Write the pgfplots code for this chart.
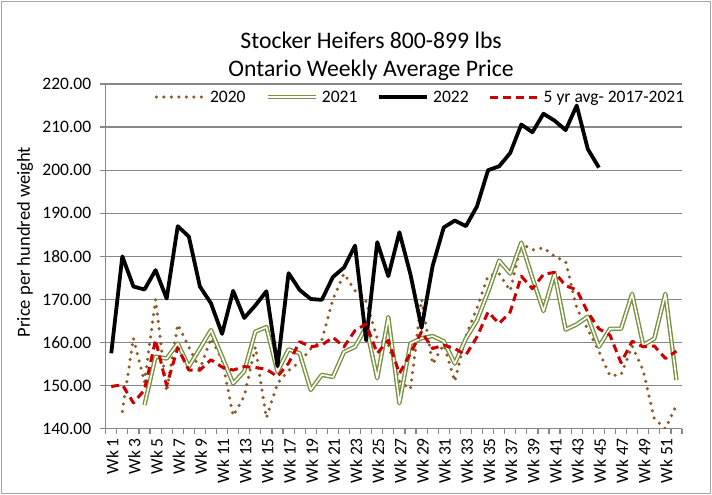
\documentclass[border=0pt]{standalone}
\usepackage{pgfplots}
\pgfplotsset{compat=1.18}
\usepackage{fontspec}
\setmainfont{Carlito}
\definecolor{gridgray}{RGB}{135,135,135}
\definecolor{bordergray}{RGB}{165,165,165}
\definecolor{brownA}{RGB}{140,92,40}
\definecolor{oliveA}{RGB}{118,146,60}
\definecolor{redA}{RGB}{204,0,0}
\begin{document}
\begin{tikzpicture}[x=1bp,y=1bp]
\path[use as bounding box] (0,0) rectangle (712,495);
\draw[bordergray, line width=1.2bp] (1.5,1.5) rectangle (710.5,493.5);
\node[font=\fontsize{23.7bp}{28bp}\selectfont] at (371,455) {Stocker Heifers 800-899 lbs};
\node[font=\fontsize{23.7bp}{28bp}\selectfont] at (371,425) {Ontario Weekly Average Price};
\node[rotate=90, font=\fontsize{18.5bp}{22bp}\selectfont] at (25,253) {Price per hundred weight};
\begin{axis}[
  at={(105.7bp,66.3bp)}, anchor=south west, scale only axis,
  width=576.3bp, height=344.7bp,
  xmin=0.5, xmax=52.5, ymin=140, ymax=220,
  ytick={140,150,...,220},
  xtick={1,3,...,51},
  minor xtick={0.5,1.5,...,52.5},
  xticklabel={Wk \pgfmathparse{int(\tick)}\pgfmathresult},
  axis x line*=bottom, axis y line*=left,
  axis line style={gridgray, line width=1.3bp, -},
  ymajorgrids, major grid style={gridgray, line width=1.3bp},
  tick align=outside,
  major tick length=6bp, minor tick length=5bp,
  major x tick style={draw=none},
  minor x tick style={gridgray, line width=1.2bp},
  major y tick style={gridgray, line width=1.2bp},
  tick label style={font=\fontsize{17.5bp}{20bp}\selectfont},
  xticklabel style={rotate=90, anchor=east, yshift=-1bp},
  yticklabel style={xshift=-5bp, /pgf/number format/.cd, fixed, fixed zerofill, precision=2, assume math mode=true},
  legend style={at={(0.546,0.962)}, anchor=center, draw=none, fill=none,
    font=\fontsize{17.5bp}{20bp}\selectfont, legend columns=-1,
    /tikz/every odd column/.append style={column sep=2bp},
    /tikz/every even column/.append style={column sep=18bp}},
  legend image code/.code={\draw[#1] (0bp,0bp) -- (48bp,0bp);},
  every axis plot/.append style={line join=round},
]
\addplot[brownA, line width=3.5bp, line cap=round, dash pattern=on 0bp off 7.5bp] coordinates {
(2,144.0) (3,161.0) (4,150.8) (5,170.0) (6,148.6) (7,164.2) (8,159.0) (9,153.8) (10,161.0)
(11,156.0) (12,143.0) (13,147.5) (14,159.0) (15,142.5) (16,150.5) (17,153.5) (18,155.5)
(19,158.5) (20,160.5) (21,170.0) (22,176.0) (23,172.0) (24,169.5) (25,161.0) (26,159.5)
(27,151.0) (28,149.2) (29,170.0) (30,155.0) (31,159.5) (32,151.0) (33,161.5) (34,168.0)
(35,175.5) (36,176.0) (37,172.0) (38,183.0) (39,181.5) (40,182.0) (41,180.0) (42,178.8)
(43,168.0) (44,163.0) (45,158.0) (46,152.3) (47,152.5) (48,159.2) (49,153.5) (50,142.3)
(51,140.0) (52,145.5)};
\addlegendentry{2020}
\addplot[draw=oliveA, line width=1.4bp, double=white, double distance=1.6bp] coordinates {
(4,145.5) (5,156.7) (6,156.3) (7,159.8) (8,154.4) (9,158.6) (10,162.9) (11,156.7)
(12,150.5) (13,153.3) (14,162.5) (15,163.6) (16,153.2) (17,158.4) (18,157.5) (19,149.0)
(20,152.5) (21,152.0) (22,157.8) (23,159.0) (24,163.6) (25,151.7) (26,165.9) (27,145.9)
(28,159.8) (29,161.0) (30,161.5) (31,160.3) (32,155.1) (33,160.9) (34,165.1) (35,171.7)
(36,179.0) (37,176.0) (38,183.2) (39,175.0) (40,167.3) (41,176.0) (42,163.0) (43,164.2)
(44,166.0) (45,159.0) (46,163.2) (47,163.2) (48,171.3) (49,159.4) (50,160.9) (51,171.3)
(52,151.3)};
\addlegendentry{2021}
\addplot[black, line width=3.8bp] coordinates {
(1,157.5) (2,180.0) (3,173.0) (4,172.3) (5,176.8) (6,170.2) (7,187.0) (8,184.6) (9,173.0)
(10,169.1) (11,162.0) (12,172.0) (13,165.7) (14,168.6) (15,171.9) (16,154.5) (17,176.1)
(18,172.2) (19,170.1) (20,169.9) (21,175.2) (22,177.4) (23,182.5) (24,160.5) (25,183.3)
(26,175.4) (27,185.6) (28,175.8) (29,163.4) (30,177.8) (31,186.7) (32,188.3) (33,187.0)
(34,191.6) (35,200.0) (36,200.9) (37,204.0) (38,210.6) (39,208.8) (40,213.1) (41,211.5)
(42,209.3) (43,215.0) (44,204.9) (45,200.6)};
\addlegendentry{2022}
\addplot[redA, line width=3bp, dash pattern=on 8bp off 5bp] coordinates {
(1,149.8) (2,150.2) (3,146.0) (4,149.0) (5,160.6) (6,150.0) (7,158.8) (8,153.6) (9,153.6)
(10,156.0) (11,154.3) (12,153.6) (13,154.4) (14,154.2) (15,153.8) (16,152.1) (17,155.2)
(18,160.2) (19,159.0) (20,159.4) (21,161.2) (22,159.0) (23,162.8) (24,164.3) (25,157.5)
(26,160.5) (27,152.8) (28,157.5) (29,162.5) (30,158.6) (31,159.4) (32,158.6) (33,157.1)
(34,161.3) (35,167.1) (36,164.4) (37,167.1) (38,175.4) (39,172.5) (40,175.8) (41,176.3)
(42,173.2) (43,172.2) (44,167.0) (45,163.2) (46,161.7) (47,155.3) (48,160.3) (49,159.0)
(50,159.2) (51,156.3) (52,158.0)};
\addlegendentry{5 yr avg- 2017-2021}
\end{axis}
\end{tikzpicture}
\end{document}
